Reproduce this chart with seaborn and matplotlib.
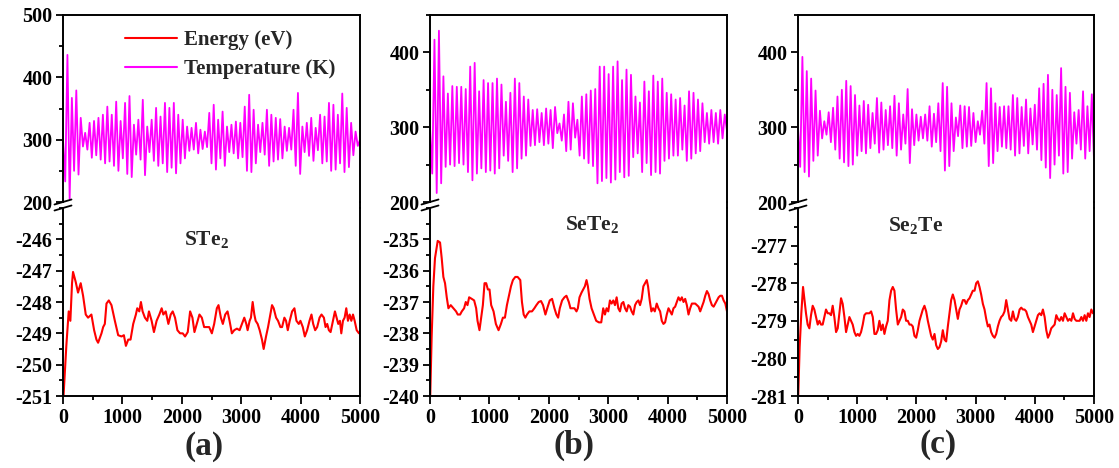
import numpy as np
import matplotlib
matplotlib.use("Agg")
import matplotlib.pyplot as plt
from matplotlib.lines import Line2D
from matplotlib.ticker import MultipleLocator
import seaborn as sns

# ---------------- data ----------------
# Temperature (K): successive turning points of the thermostat oscillation, 0-5000 fs
temp_a = [300, 233, 436, 205, 367, 250, 379, 244, 335, 289, 311, 284, 327, 271, 330, 275,
          335, 268, 340, 262, 353, 265, 340, 258, 361, 250, 330, 270, 359, 245, 370, 240,
          324, 276, 332, 268, 364, 243, 321, 280, 332, 266, 351, 258, 337, 262, 359, 248,
          351, 255, 359, 246, 340, 262, 332, 270, 321, 282, 319, 284, 327, 278, 316, 285,
          313, 288, 343, 262, 356, 252, 332, 270, 345, 258, 321, 280, 324, 278, 329, 270,
          327, 272, 353, 250, 372, 248, 348, 262, 324, 280, 327, 276, 348, 258, 340, 265,
          335, 268, 333, 270, 321, 282, 319, 284, 348, 258, 375, 245, 321, 280, 327, 274,
          335, 266, 319, 283, 340, 262, 337, 265, 359, 250, 356, 252, 340, 262, 374, 248,
          351, 256, 327, 275, 313, 290, 300]
temp_b = [300, 238, 417, 212, 429, 225, 368, 247, 345, 250, 355, 248, 354, 252, 354, 250,
          351, 240, 381, 229, 386, 238, 348, 245, 363, 240, 359, 242, 359, 238, 365, 245,
          357, 262, 334, 255, 346, 240, 365, 245, 359, 258, 341, 262, 337, 275, 323, 276,
          324, 280, 319, 276, 325, 278, 323, 272, 327, 292, 305, 282, 317, 268, 334, 270,
          332, 286, 310, 262, 341, 258, 344, 252, 349, 248, 351, 225, 381, 228, 381, 232,
          371, 226, 381, 230, 388, 240, 363, 233, 377, 235, 370, 260, 341, 265, 333, 240,
          361, 252, 348, 236, 369, 240, 361, 238, 365, 255, 346, 258, 344, 262, 337, 262,
          339, 270, 329, 255, 348, 258, 346, 265, 337, 268, 332, 280, 319, 278, 323, 280,
          319, 278, 323, 285, 317, 295]
temp_c = [300, 247, 394, 240, 375, 234, 365, 255, 349, 262, 322, 285, 308, 290, 320, 280,
          326, 270, 341, 258, 350, 253, 362, 248, 355, 250, 343, 262, 329, 268, 335, 265,
          330, 272, 319, 278, 339, 266, 333, 270, 323, 276, 328, 272, 342, 262, 332, 270,
          317, 278, 351, 252, 324, 276, 317, 282, 314, 285, 317, 282, 328, 274, 318, 280,
          332, 268, 359, 242, 354, 248, 332, 268, 313, 288, 329, 272, 328, 274, 327, 275,
          319, 280, 308, 290, 322, 278, 359, 248, 352, 252, 332, 268, 327, 274, 328, 272,
          328, 270, 343, 262, 339, 265, 327, 275, 337, 265, 325, 277, 330, 270, 352, 256,
          358, 246, 370, 232, 350, 250, 343, 262, 379, 238, 354, 240, 346, 258, 320, 278,
          323, 270, 348, 258, 328, 268, 344, 256]

# Total energy (eV) versus time (fs)
time_a = [0, 56, 96, 124, 152, 169, 214, 253, 298, 338, 383, 422, 478, 524, 563, 591, 648, 676,
          704, 732, 771, 816, 873, 929, 985, 1025, 1059, 1098, 1137, 1182, 1227, 1250, 1284,
          1312, 1340, 1379, 1419, 1447, 1492, 1531, 1576, 1622, 1661, 1689, 1729, 1774, 1813,
          1847, 1886, 1926, 1971, 2016, 2055, 2100, 2140, 2179, 2213, 2252, 2297, 2337, 2376,
          2421, 2461, 2506, 2545, 2590, 2618, 2658, 2691, 2731, 2770, 2804, 2843, 2883, 2928,
          2973, 3012, 3052, 3086, 3108, 3142, 3164, 3193, 3221, 3243, 3277, 3311, 3350, 3378,
          3418, 3452, 3491, 3519, 3547, 3587, 3620, 3660, 3688, 3727, 3755, 3784, 3817, 3857,
          3896, 3930, 3969, 3997, 4037, 4071, 4110, 4150, 4183, 4212, 4245, 4279, 4319, 4352,
          4392, 4420, 4448, 4476, 4505, 4544, 4578, 4606, 4634, 4662, 4685, 4713, 4741, 4769,
          4797, 4826, 4854, 4882, 4910, 4944, 4983, 5000]
energy_a = [-251.3, -249.4, -248.3, -248.6, -247.4, -247.04, -247.36, -247.7, -247.4, -247.8,
            -248.4, -248.5, -248.4, -248.9, -249.2, -249.3, -249.0, -248.8, -248.7, -248.05,
            -247.95, -248.1, -248.6, -249.06, -249.1, -249.06, -249.4, -249.2, -249.2, -248.7,
            -248.4, -248.2, -248.3, -248.0, -248.3, -248.5, -248.6, -248.3, -248.6, -248.96,
            -248.6, -248.4, -248.2, -248.4, -248.3, -248.7, -248.4, -248.3, -248.5, -248.9,
            -249.0, -249.0, -249.1, -248.96, -248.3, -248.5, -248.96, -248.7, -248.4, -248.5,
            -248.8, -248.8, -248.8, -249.0, -248.7, -248.2, -248.1, -248.5, -248.7, -248.4,
            -248.3, -248.6, -249.0, -248.9, -248.85, -248.9, -248.7, -248.5, -248.7, -248.9,
            -248.6, -248.5, -248.0, -248.4, -248.6, -248.7, -248.9, -249.2, -249.5, -249.1,
            -248.8, -248.4, -248.1, -248.2, -248.5, -248.6, -248.8, -248.8, -248.5, -248.6,
            -248.9, -248.6, -248.3, -248.2, -248.6, -248.7, -248.6, -248.8, -249.1, -248.9,
            -248.6, -248.4, -248.7, -248.9, -248.8, -248.5, -248.4, -248.5, -248.8, -248.7,
            -248.9, -248.96, -248.6, -248.3, -248.5, -248.7, -248.6, -249.0, -248.6, -248.5,
            -248.2, -248.6, -248.4, -248.6, -248.4, -248.6, -248.9, -249.0, -249.0]

time_b = [0, 28, 56, 84, 130, 169, 197, 225, 253, 282, 310, 349, 394, 439, 467, 507, 535, 574,
          602, 631, 659, 703, 743, 777, 800, 833, 861, 890, 918, 946, 974, 1002, 1030, 1070,
          1109, 1154, 1194, 1227, 1261, 1295, 1329, 1363, 1396, 1436, 1475, 1520, 1548, 1577,
          1605, 1633, 1672, 1717, 1757, 1791, 1830, 1869, 1903, 1943, 1982, 2016, 2055, 2095,
          2128, 2157, 2185, 2224, 2263, 2297, 2337, 2365, 2399, 2432, 2466, 2489, 2517, 2551,
          2579, 2607, 2635, 2658, 2686, 2720, 2759, 2798, 2843, 2883, 2916, 2945, 2973, 3001,
          3029, 3057, 3086, 3114, 3142, 3170, 3198, 3226, 3255, 3283, 3311, 3339, 3367, 3395,
          3423, 3452, 3480, 3508, 3536, 3564, 3592, 3620, 3649, 3671, 3699, 3727, 3755, 3784,
          3817, 3845, 3874, 3902, 3930, 3958, 3986, 4015, 4043, 4071, 4099, 4127, 4155, 4183,
          4212, 4240, 4268, 4296, 4324, 4352, 4380, 4409, 4437, 4465, 4493, 4521, 4549, 4578,
          4606, 4634, 4662, 4690, 4718, 4746, 4775, 4803, 4831, 4859, 4887, 4915, 4943, 4972,
          5000]
energy_b = [-240.3, -238.1, -236.5, -235.6, -235.05, -235.1, -235.6, -236.2, -236.4, -236.85,
            -237.2, -237.1, -237.2, -237.3, -237.4, -237.4, -237.3, -237.2, -237.0, -237.1,
            -236.85, -236.9, -236.95, -237.2, -237.6, -237.9, -237.5, -237.1, -236.4, -236.4,
            -236.6, -236.6, -237.1, -237.3, -237.7, -237.9, -237.7, -237.5, -237.5, -237.1,
            -236.8, -236.5, -236.3, -236.2, -236.2, -236.3, -237.0, -237.4, -237.5, -237.4,
            -237.3, -237.3, -237.2, -237.1, -237.0, -236.97, -237.1, -237.4, -237.15, -236.95,
            -236.9, -237.2, -237.4, -237.5, -237.2, -236.95, -236.85, -236.8, -237.0, -237.2,
            -237.2, -237.2, -237.3, -237.2, -236.85, -236.7, -236.6, -236.5, -236.3, -236.5,
            -236.9, -237.2, -237.4, -237.6, -237.65, -237.65, -237.2, -237.4, -237.2, -237.3,
            -236.95, -237.05, -236.95, -237.1, -236.85, -237.2, -237.3, -237.05, -237.0, -237.2,
            -237.3, -237.1, -237.15, -237.3, -237.4, -237.1, -237.0, -236.95, -237.1, -236.9,
            -236.5, -236.4, -236.3, -236.5, -236.95, -237.3, -237.2, -237.3, -237.05, -237.2,
            -237.3, -237.6, -237.7, -237.65, -237.4, -237.2, -237.3, -237.4, -237.2, -237.15,
            -237.0, -236.85, -236.95, -236.85, -237.0, -236.9, -237.1, -237.4, -237.2, -237.05,
            -237.05, -237.05, -237.1, -237.15, -237.3, -237.15, -237.0, -236.8, -236.65, -236.75,
            -236.95, -237.1, -237.15, -237.05, -236.95, -236.85, -236.8, -236.8, -236.95, -237.05,
            -237.3]

time_c = [0, 28, 56, 85, 107, 135, 163, 192, 220, 248, 276, 304, 333, 361, 389, 417, 445, 473,
          502, 530, 558, 586, 614, 643, 671, 699, 727, 755, 784, 812, 840, 868, 896, 924, 953,
          981, 1009, 1037, 1065, 1094, 1122, 1150, 1178, 1206, 1235, 1263, 1291, 1319, 1347,
          1375, 1404, 1432, 1460, 1488, 1516, 1545, 1573, 1601, 1629, 1657, 1686, 1714, 1742,
          1770, 1798, 1826, 1855, 1883, 1911, 1939, 1967, 1996, 2024, 2052, 2080, 2108, 2136,
          2165, 2193, 2221, 2249, 2277, 2306, 2334, 2362, 2390, 2418, 2446, 2475, 2503, 2531,
          2559, 2587, 2615, 2644, 2672, 2700, 2728, 2756, 2785, 2813, 2841, 2869, 2897, 2925,
          2953, 2982, 3010, 3038, 3066, 3094, 3123, 3151, 3179, 3207, 3235, 3263, 3292, 3320,
          3348, 3376, 3404, 3432, 3461, 3489, 3517, 3545, 3573, 3602, 3630, 3658, 3686, 3714,
          3743, 3771, 3799, 3827, 3855, 3884, 3912, 3940, 3968, 3996, 4025, 4053, 4081, 4109,
          4137, 4166, 4194, 4222, 4250, 4278, 4306, 4335, 4363, 4391, 4419, 4447, 4476, 4504,
          4532, 4560, 4588, 4617, 4645, 4673, 4701, 4729, 4757, 4786, 4814, 4842, 4870, 4898,
          4926, 4955, 4983, 5000]
energy_c = [-281.2, -279.7, -278.8, -278.1, -278.4, -278.8, -279.1, -279.2, -278.85, -278.6,
            -278.7, -278.9, -279.1, -279.0, -279.1, -279.1, -278.9, -278.7, -278.8, -278.8,
            -278.85, -278.6, -278.9, -279.3, -279.2, -278.8, -278.4, -278.55, -278.9, -279.3,
            -279.1, -278.9, -279.0, -279.1, -279.3, -279.4, -279.35, -279.4, -279.3, -279.1,
            -278.85, -278.8, -278.8, -278.8, -278.75, -278.9, -279.35, -279.35, -279.25, -279.0,
            -279.25, -279.1, -279.35, -279.15, -279.0, -278.45, -278.2, -278.1, -278.2, -278.7,
            -279.1, -279.0, -278.9, -278.7, -278.75, -279.0, -279.0, -279.1, -279.1, -279.15,
            -279.4, -279.45, -279.25, -279.0, -278.85, -278.7, -278.6, -278.75, -279.0, -279.2,
            -279.4, -279.5, -279.35, -279.65, -279.75, -279.7, -279.55, -279.25, -279.5, -279.55,
            -279.15, -278.8, -278.45, -278.3, -278.45, -278.7, -278.95, -278.7, -278.6, -278.45,
            -278.45, -278.55, -278.45, -278.4, -278.3, -278.2, -278.2, -278.0, -277.95, -278.1,
            -278.3, -278.55, -278.7, -278.95, -279.15, -279.1, -279.3, -279.4, -279.45, -279.35,
            -279.15, -279.0, -278.9, -278.85, -278.75, -278.45, -278.7, -278.95, -279.0, -278.75,
            -278.95, -279.0, -278.9, -278.7, -278.65, -278.7, -278.7, -278.75, -278.9, -279.0,
            -279.1, -279.3, -279.15, -279.0, -278.85, -278.8, -278.85, -278.7, -278.9, -279.25,
            -279.45, -279.35, -279.2, -279.15, -279.1, -278.85, -278.95, -279.0, -278.9, -279.0,
            -278.8, -278.9, -279.0, -278.95, -279.0, -278.8, -278.95, -279.0, -279.0, -279.0,
            -278.9, -279.0, -278.85, -279.0, -278.8, -278.9, -278.7, -278.8, -278.75]

compounds = [r"STe$_2$", r"SeTe$_2$", r"Se$_2$Te"]
panel_tags = ["(a)", "(b)", "(c)"]
legend_labels = ["Energy (eV)", "Temperature (K)"]
temp_ticks = [[200, 300, 400, 500], [200, 300, 400], [200, 300, 400]]
energy_ticks = [[-251, -250, -249, -248, -247, -246],
                [-240, -239, -238, -237, -236, -235],
                [-281, -280, -279, -278, -277]]
time_ticks = [0, 1000, 2000, 3000, 4000, 5000]

# ---------------- style ----------------
sns.set_theme(style="ticks")
plt.rcParams.update({
    "font.family": ["Liberation Serif", "DejaVu Serif"],
    "font.weight": "bold",
    "mathtext.fontset": "custom",
    "mathtext.rm": "Liberation Serif:bold",
    "mathtext.it": "Liberation Serif:italic:bold",
    "mathtext.bf": "Liberation Serif:bold",
    "mathtext.default": "regular",
    "axes.unicode_minus": False,
    "axes.linewidth": 1.4,
    "axes.edgecolor": "black",
    "xtick.color": "black",
    "ytick.color": "black",
})

RED = "#FF0000"
MAGENTA = "#FF00FF"
W, H = 1119, 468
fig = plt.figure(figsize=(W / 100, H / 100), dpi=100)


def frac_box(left, top, right, bottom):
    return [left / W, 1 - bottom / H, (right - left) / W, (bottom - top) / H]


def fig_line(xs, ys, **kw):
    fig.add_artist(Line2D([x / W for x in xs], [1 - y / H for y in ys],
                          transform=fig.transFigure, color="black", **kw))


layout = [  # left, right (px), compound label centre, tag centre
    dict(l=63, r=360, comp=(206, 240), tag=(204, 446)),
    dict(l=430, r=727, comp=(592, 224), tag=(574, 445)),
    dict(l=798, r=1094, comp=(916, 225), tag=(938, 445)),
]
TOP, BRK_T, BRK_B, BOT = 15, 202, 208, 396

temps = [temp_a, temp_b, temp_c]
times = [time_a, time_b, time_c]
energies = [energy_a, energy_b, energy_c]

for i in range(3):
    L = layout[i]
    ax_t = fig.add_axes(frac_box(L["l"], TOP, L["r"], BRK_T))
    ax_b = fig.add_axes(frac_box(L["l"], BRK_B, L["r"], BOT))

    tv = temps[i]
    tt = np.linspace(0, 5000, len(tv))
    sns.lineplot(x=tt, y=tv, ax=ax_t, color=MAGENTA, lw=1.3, estimator=None, sort=False)
    sns.lineplot(x=times[i], y=energies[i], ax=ax_b, color=RED, lw=1.5,
                 estimator=None, sort=False)

    tk = temp_ticks[i]
    ax_t.set_ylim(200, 500 if i == 0 else 450)
    ax_t.set_yticks(tk)
    ax_t.yaxis.set_minor_locator(MultipleLocator(50))
    ek = energy_ticks[i]
    ax_b.set_ylim(ek[0], ek[-1] + 1)
    ax_b.set_yticks(ek)
    ax_b.yaxis.set_minor_locator(MultipleLocator(0.5))

    for ax in (ax_t, ax_b):
        ax.set_xlim(0, 5000)
        ax.set_xlabel("")
        ax.set_ylabel("")
        ax.set_facecolor("white")
        for s in ax.spines.values():
            s.set_linewidth(1.4)
            s.set_visible(True)
        ax.tick_params(which="both", direction="out", width=1.3, labelsize=14.5,
                       top=False, right=False, pad=2.5)
        ax.tick_params(which="major", length=5)
        ax.tick_params(which="minor", length=3)

    ax_t.spines["bottom"].set_visible(False)
    ax_t.tick_params(axis="x", which="both", bottom=False, labelbottom=False)
    ax_b.spines["top"].set_visible(False)
    ax_b.set_xticks(time_ticks)
    ax_b.xaxis.set_minor_locator(MultipleLocator(500))
    ax_b.tick_params(axis="x", which="major", length=6)
    for ax in (ax_t, ax_b):
        for lab in ax.get_yticklabels() + ax.get_xticklabels():
            lab.set_fontweight("bold")

    # continuous right frame across the break, and the // break marks on the left
    fig_line([L["r"], L["r"]], [BRK_T, BRK_B], lw=1.4)
    for yc in (BRK_T, BRK_B):
        fig_line([L["l"] - 8.5, L["l"] + 8.5], [yc + 2.5, yc - 2.5], lw=1.3)

    fig.text(L["comp"][0] / W, 1 - L["comp"][1] / H, compounds[i], ha="center",
             va="center", fontsize=15.5, fontweight="bold")
    fig.text(L["tag"][0] / W, 1 - L["tag"][1] / H, panel_tags[i], ha="center",
             va="center", fontsize=24, fontweight="bold")

handles = [Line2D([], [], color=RED, lw=1.5), Line2D([], [], color=MAGENTA, lw=1.5)]
fig.legend(handles, legend_labels, loc="upper left", bbox_to_anchor=(125 / W, 1 - 30 / H),
           frameon=False, prop={"size": 15, "weight": "bold"}, handlelength=2.5,
           handletextpad=0.35, labelspacing=0.45, borderpad=0, borderaxespad=0)

fig.savefig("out.png", dpi=100, facecolor="white")
